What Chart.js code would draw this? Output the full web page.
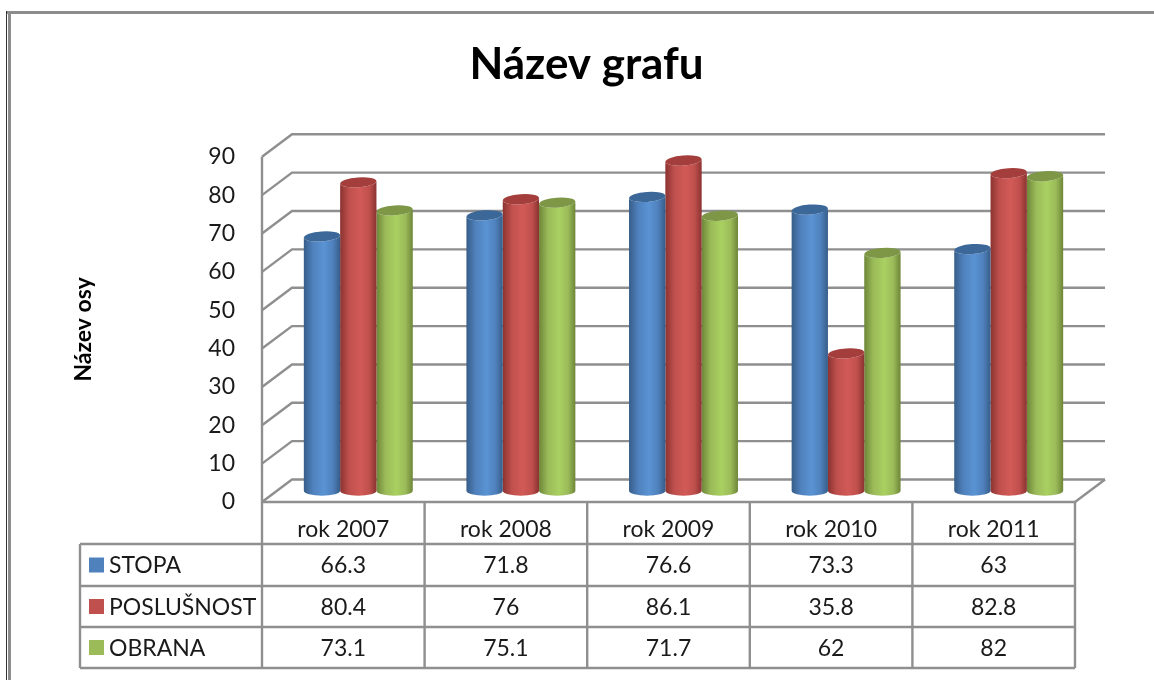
<!DOCTYPE html>
<html>
<head>
<meta charset="utf-8">
<title>Název grafu</title>
<style>
  html, body { margin: 0; padding: 0; background: #fff; overflow: hidden; }
  canvas { display: block; filter: blur(0.6px); }
</style>
<script src="https://cdn.jsdelivr.net/npm/chart.js@4"></script>
</head>
<body>
<canvas id="myChart" width="1154" height="680"></canvas>
<script>
const categories = ['rok 2007', 'rok 2008', 'rok 2009', 'rok 2010', 'rok 2011'];
const stopa = [66.3, 71.8, 76.6, 73.3, 63];
const poslusnost = [80.4, 76, 86.1, 35.8, 82.8];
const obrana = [73.1, 75.1, 71.7, 62, 82];

const FONT = 'Lato, Carlito, sans-serif';
const FONT_SIZE = 23;
const GRID = '#8f8f8f';
const DEPTH_X = 30, DEPTH_Y = 22.5; // back wall offset from the front plane

// walls, floor and outer frame, all taken from the y scale
const walls = {
  id: 'walls',
  beforeDatasetsDraw(chart) {
    const { ctx, chartArea: a, scales: { y } } = chart;
    ctx.save();
    // frame of the picture
    ctx.fillStyle = '#8c8c8c';
    ctx.fillRect(7, 11, 1147, 3);
    ctx.fillRect(8, 11, 3, 669);
    ctx.fillStyle = '#333';
    ctx.fillRect(6, 11, 1, 669);

    ctx.strokeStyle = GRID;
    ctx.lineWidth = 2.4;
    y.ticks.forEach(t => {
      const p = y.getPixelForValue(t.value);
      ctx.beginPath();
      ctx.moveTo(a.left, p);
      ctx.lineTo(a.left + DEPTH_X, p - DEPTH_Y);
      ctx.lineTo(a.right + DEPTH_X, p - DEPTH_Y);
      ctx.stroke();
    });
    ctx.beginPath();
    ctx.moveTo(a.left, a.top);
    ctx.lineTo(a.left, a.bottom);
    ctx.moveTo(a.right, a.bottom);
    ctx.lineTo(a.right + DEPTH_X, a.bottom - DEPTH_Y);
    ctx.stroke();
    ctx.restore();
  }
};

// each bar is drawn as a cylinder from its own element, half way into the depth
const shades = [
  { edge: '#375d88', mid: '#5a93d3', cap: '#3c6899' },
  { edge: '#8a3331', mid: '#d25a57', cap: '#a33e3c' },
  { edge: '#6d8638', mid: '#a9d061', cap: '#7d9747' }
];
const cylinders = {
  id: 'cylinders',
  beforeDatasetDraw(chart, args) {
    const { ctx } = chart;
    const s = shades[args.index];
    const color = chart.data.datasets[args.index].backgroundColor;
    const dx = DEPTH_X / 2, dy = DEPTH_Y / 2;
    args.meta.data.forEach(el => {
      const { x, y, base, width } = el.getProps(['x', 'y', 'base', 'width'], true);
      const rx = width / 2, ry = 5, tilt = -0.07;
      const cx = x + dx, top = y - dy, bottom = base - dy;
      const g = ctx.createLinearGradient(cx - rx, 0, cx + rx, 0);
      g.addColorStop(0, s.edge);
      g.addColorStop(0.25, color);
      g.addColorStop(0.55, s.mid);
      g.addColorStop(0.8, color);
      g.addColorStop(1, s.edge);
      ctx.save();
      ctx.fillStyle = g;
      ctx.beginPath();
      ctx.moveTo(cx - rx, top);
      ctx.lineTo(cx - rx, bottom);
      ctx.ellipse(cx, bottom, rx, ry, 0, Math.PI, 0, true);
      ctx.lineTo(cx + rx, top);
      ctx.ellipse(cx, top, rx, ry, tilt, 0, Math.PI);
      ctx.closePath();
      ctx.fill();
      ctx.fillStyle = s.cap;
      ctx.beginPath();
      ctx.ellipse(cx, top, rx, ry, tilt, 0, Math.PI * 2);
      ctx.fill();
      ctx.restore();
    });
    return false;
  }
};

// data table under the plot
const dataTable = {
  id: 'dataTable',
  afterDraw(chart) {
    const { ctx, chartArea: a, scales: { x } } = chart;
    const rows = [544, 586, 627, 668];
    const tableLeft = 80;
    const colW = (a.right - a.left) / categories.length;
    ctx.save();
    ctx.strokeStyle = GRID;
    ctx.lineWidth = 2.4;
    ctx.beginPath();
    ctx.moveTo(a.left, a.bottom);
    ctx.lineTo(a.right, a.bottom);
    for (let i = 0; i <= categories.length; i++) {
      ctx.moveTo(a.left + i * colW, a.bottom);
      ctx.lineTo(a.left + i * colW, rows[3]);
    }
    rows.forEach(r => {
      ctx.moveTo(tableLeft, r);
      ctx.lineTo(a.right, r);
    });
    ctx.moveTo(tableLeft, rows[0]);
    ctx.lineTo(tableLeft, rows[3]);
    ctx.stroke();

    ctx.font = FONT_SIZE + 'px ' + FONT;
    ctx.textBaseline = 'middle';
    chart.data.datasets.forEach((ds, r) => {
      const mid = (rows[r] + rows[r + 1]) / 2;
      ctx.fillStyle = ds.backgroundColor;
      ctx.fillRect(89, mid - 7.5, 15, 15);
      ctx.fillStyle = '#1a1a1a';
      ctx.textAlign = 'left';
      ctx.fillText(ds.label, 109, mid + 1);
      ctx.textAlign = 'center';
      ds.data.forEach((v, i) => ctx.fillText(String(v), x.getPixelForTick(i), mid + 1));
    });
    ctx.restore();
  }
};

new Chart(document.getElementById('myChart'), {
  type: 'bar',
  data: {
    labels: categories,
    datasets: [
      { label: 'STOPA', data: stopa, backgroundColor: '#4f81bd' },
      { label: 'POSLUŠNOST', data: poslusnost, backgroundColor: '#c0504d' },
      { label: 'OBRANA', data: obrana, backgroundColor: '#9bbb59' }
    ]
  },
  options: {
    responsive: false,
    animation: false,
    categoryPercentage: 0.67,
    barPercentage: 1,
    // the wide left padding moves the chart title over to where it sits in the picture
    layout: { padding: { left: 98, right: 79, top: 0, bottom: 0 } },
    plugins: {
      legend: { display: false },
      tooltip: { enabled: false },
      title: {
        display: true,
        text: 'Název grafu',
        color: '#000',
        font: { family: FONT, size: 44, weight: 'bold', lineHeight: 1.2 },
        padding: { top: 38, bottom: 66 }
      }
    },
    scales: {
      x: {
        grid: { display: false, drawTicks: false },
        border: { display: false },
        ticks: { color: '#1a1a1a', padding: 14, maxRotation: 0, autoSkip: false, font: { family: FONT, size: FONT_SIZE } },
        afterFit(scale) { scale.height = 178; }
      },
      y: {
        min: 0,
        max: 90,
        grid: { display: false, drawTicks: false },
        border: { display: false },
        ticks: { stepSize: 10, color: '#1a1a1a', padding: 27, font: { family: FONT, size: FONT_SIZE } },
        title: {
          display: true,
          text: 'Název osy',
          color: '#000',
          font: { family: FONT, size: 23, weight: 'bold' },
          padding: { top: -28, bottom: 0 }
        },
        afterFit(scale) { scale.width = 164; }
      }
    }
  },
  plugins: [walls, cylinders, dataTable]
});
</script>
</body>
</html>
